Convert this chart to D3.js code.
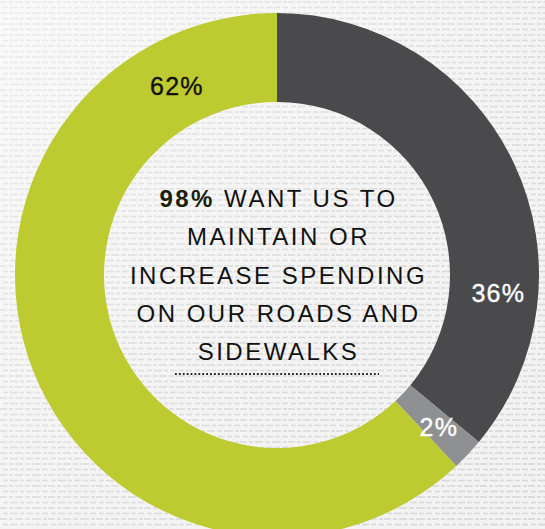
<!DOCTYPE html>
<html>
<head>
<meta charset="utf-8">
<script src="https://cdn.jsdelivr.net/npm/d3@7"></script>
<style>
  html, body { margin: 0; padding: 0; background: #f1f1f1; }
  svg { display: block; }
</style>
</head>
<body>
<svg id="chart" width="545" height="529"></svg>
<script>
// Survey answers on road and sidewalk spending (percent of respondents)
const categories = ["Maintain spending", "Reduce spending", "Increase spending"];
const shares = [36, 2, 62];
const shareLabels = ["36%", "2%", "62%"];
const headline = "98%";
const messageLines = [" WANT US TO", "MAINTAIN OR", "INCREASE SPENDING", "ON OUR ROADS AND", "SIDEWALKS"];

const W = 545, H = 529;
const cx = 277, cy = 275;
const outerR = 262, innerR = 173;

const color = d3.scaleOrdinal()
  .domain(categories)
  .range(["#4a4a4d", "#8f9092", "#bdcb30"]);

const labelColor = d3.scaleOrdinal()
  .domain(categories)
  .range(["#ffffff", "#ffffff", "#111111"]);

// where each label sits along its slice (0 = slice start, 1 = slice end)
const labelAlong = d3.scaleOrdinal().domain(categories).range([0.73, 0.5, 0.875]);
const labelRadius = d3.scaleOrdinal().domain(categories).range([222, 222, 214]);

const svg = d3.select("#chart");
const defs = svg.append("defs");

// fine woven paper texture behind the chart
const pat = defs.append("pattern")
  .attr("id", "paper")
  .attr("patternUnits", "userSpaceOnUse")
  .attr("width", 48).attr("height", 11);
pat.append("rect").attr("width", 48).attr("height", 11).attr("fill", "#f2f2f2");
const dashRows = [
  { y: 1.2, segs: [[0, 7], [9, 4], [15, 8], [25, 5], [32, 9], [43, 4]] },
  { y: 6.7, segs: [[3, 5], [10, 8], [20, 4], [26, 7], [35, 5], [42, 6]] }
];
dashRows.forEach(r => {
  pat.selectAll(null).data(r.segs).enter().append("rect")
    .attr("x", d => d[0]).attr("y", r.y)
    .attr("width", d => d[1]).attr("height", 1.6)
    .attr("fill", "#d5d5d5");
});

const shade = defs.append("linearGradient")
  .attr("id", "shade").attr("x1", 0).attr("y1", 0).attr("x2", 1).attr("y2", 1);
shade.append("stop").attr("offset", 0).attr("stop-color", "#ffffff").attr("stop-opacity", 0.55);
shade.append("stop").attr("offset", 0.5).attr("stop-color", "#ffffff").attr("stop-opacity", 0.2);
shade.append("stop").attr("offset", 1).attr("stop-color", "#ffffff").attr("stop-opacity", 0.05);

svg.append("rect").attr("width", W).attr("height", H).attr("fill", "url(#paper)");
svg.append("rect").attr("width", W).attr("height", H).attr("fill", "url(#shade)");

// donut ring
const pie = d3.pie().sort(null).value(d => d.value).startAngle(0).endAngle(2 * Math.PI);
const slices = pie(categories.map((c, i) => ({ key: c, value: shares[i], label: shareLabels[i] })));
const arc = d3.arc().innerRadius(innerR).outerRadius(outerR);

const g = svg.append("g").attr("transform", `translate(${cx},${cy})`);

g.selectAll("path.slice")
  .data(slices)
  .enter().append("path")
  .attr("class", "slice")
  .attr("d", arc)
  .attr("fill", d => color(d.data.key));

// percentage labels on the ring
g.selectAll("text.share")
  .data(slices)
  .enter().append("text")
  .attr("class", "share")
  .attr("transform", d => {
    const a = d.startAngle + (d.endAngle - d.startAngle) * labelAlong(d.data.key);
    const r = labelRadius(d.data.key);
    return `translate(${r * Math.sin(a)},${-r * Math.cos(a)})`;
  })
  .attr("text-anchor", "middle")
  .attr("dy", "0.36em")
  .attr("font-family", "'Liberation Sans', Arial, Helvetica, sans-serif")
  .attr("font-size", 25)
  .attr("letter-spacing", 1.2)
  .attr("fill", d => labelColor(d.data.key))
  .attr("stroke", d => labelColor(d.data.key))
  .attr("stroke-width", 0.35)
  .text(d => d.data.label);

// centre message
const msg = g.append("text")
  .attr("text-anchor", "middle")
  .attr("font-family", "'Liberation Sans', Arial, Helvetica, sans-serif")
  .attr("font-size", 24)
  .attr("letter-spacing", 2.5)
  .attr("fill", "#111111");

const lineStep = 38.25, firstBaseline = -68;
messageLines.forEach((line, i) => {
  const t = msg.append("tspan")
    .attr("x", 1.5)
    .attr("y", firstBaseline + i * lineStep);
  if (i === 0) {
    t.append("tspan").attr("font-weight", "bold").attr("fill", "#18200a").text(headline);
    t.append("tspan").text(line);
  } else {
    t.text(line);
  }
});

// dotted rule under the message
g.append("line")
  .attr("x1", -102).attr("x2", 102)
  .attr("y1", 99).attr("y2", 99)
  .attr("stroke", "#222222")
  .attr("stroke-width", 2)
  .attr("stroke-dasharray", "1.8 2.1");
</script>
</body>
</html>
